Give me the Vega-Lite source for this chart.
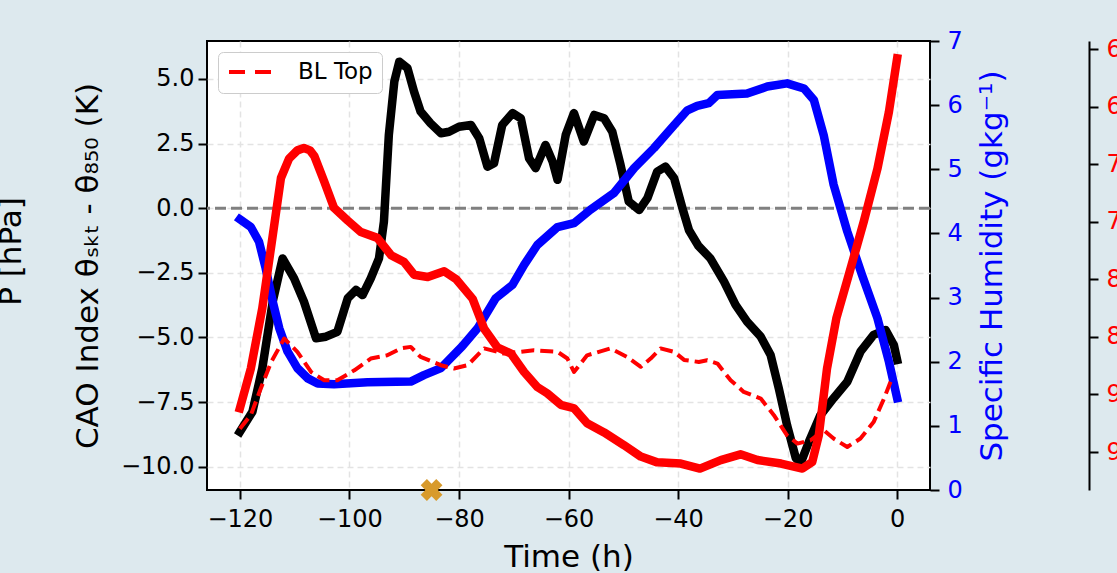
{
  "$schema": "https://vega.github.io/schema/vega-lite/v6.json",
  "width": 723,
  "height": 449,
  "autosize": {"type": "none"},
  "padding": {"left": 207, "top": 41, "right": 187, "bottom": 83},
  "background": "#dde9ee",
  "config": {
    "font": "DejaVu Sans",
    "view": {"stroke": "black", "strokeWidth": 2, "fill": "white"},
    "axis": {"labelFont": "DejaVu Sans", "titleFont": "DejaVu Sans", "labelFontSize": 24, "titleFontSize": 31, "titleFontWeight": "normal", "labelColor": "black", "titleColor": "black", "tickColor": "black", "tickWidth": 2, "tickSize": 9, "domain": false, "grid": false, "labelPadding": 8},
    "legend": {"labelFont": "DejaVu Sans", "labelFontSize": 23, "labelColor": "black", "fillColor": "white", "strokeColor": "#cccccc", "cornerRadius": 5, "padding": 9, "symbolType": "stroke", "symbolSize": 2400, "symbolStrokeWidth": 4, "symbolDash": [16, 10], "labelOffset": 18, "offset": 11, "clipHeight": 22}
  },
  "datasets": {
    "cao": [
      {"t": -120, "v": -8.65}, {"t": -117.7, "v": -7.87}, {"t": -115.9, "v": -6.19}, {"t": -114, "v": -3.61}, {"t": -112.2, "v": -1.94}, {"t": -110.1, "v": -2.71}, {"t": -108.3, "v": -3.61}, {"t": -106.1, "v": -5.03}, {"t": -104.3, "v": -4.97}, {"t": -102.2, "v": -4.78}, {"t": -100.3, "v": -3.48}, {"t": -98.8, "v": -3.16}, {"t": -97.6, "v": -3.36}, {"t": -96.1, "v": -2.71}, {"t": -94.6, "v": -1.94}, {"t": -93.7, "v": -0.52}, {"t": -92.8, "v": 2.84}, {"t": -91.8, "v": 4.9}, {"t": -90.9, "v": 5.67}, {"t": -89.4, "v": 5.42}, {"t": -88.2, "v": 4.51}, {"t": -87, "v": 3.74}, {"t": -85.2, "v": 3.29}, {"t": -83.3, "v": 2.9}, {"t": -81.8, "v": 2.96}, {"t": -80, "v": 3.15}, {"t": -77.8, "v": 3.22}, {"t": -76.3, "v": 2.71}, {"t": -74.8, "v": 1.61}, {"t": -73.6, "v": 1.74}, {"t": -72.1, "v": 3.22}, {"t": -70.2, "v": 3.68}, {"t": -68.7, "v": 3.48}, {"t": -67.2, "v": 1.93}, {"t": -66, "v": 1.55}, {"t": -64.2, "v": 2.45}, {"t": -62.9, "v": 1.8}, {"t": -62, "v": 1.1}, {"t": -60.5, "v": 2.84}, {"t": -59, "v": 3.68}, {"t": -57.2, "v": 2.58}, {"t": -55.3, "v": 3.61}, {"t": -53.5, "v": 3.48}, {"t": -52, "v": 2.96}, {"t": -50.5, "v": 1.68}, {"t": -49, "v": 0.26}, {"t": -47.1, "v": -0.07}, {"t": -45.6, "v": 0.39}, {"t": -43.8, "v": 1.42}, {"t": -42.3, "v": 1.61}, {"t": -40.7, "v": 1.16}, {"t": -39.2, "v": 0.0}, {"t": -38, "v": -0.85}, {"t": -36.3, "v": -1.45}, {"t": -34.1, "v": -1.94}, {"t": -31.6, "v": -2.84}, {"t": -29.5, "v": -3.74}, {"t": -27.4, "v": -4.39}, {"t": -24.9, "v": -4.97}, {"t": -23.1, "v": -5.68}, {"t": -21.6, "v": -6.97}, {"t": -20.1, "v": -8.39}, {"t": -18.5, "v": -9.67}, {"t": -17.6, "v": -9.85}, {"t": -16.1, "v": -9.03}, {"t": -14, "v": -8.0}, {"t": -11.6, "v": -7.35}, {"t": -9.1, "v": -6.71}, {"t": -6.7, "v": -5.55}, {"t": -4.3, "v": -4.9}, {"t": -2.1, "v": -4.71}, {"t": -0.6, "v": -5.29}, {"t": 0, "v": -5.87}
    ],
    "hum": [
      {"t": -120, "q": 4.22}, {"t": -118, "q": 4.1}, {"t": -116.5, "q": 3.87}, {"t": -115.3, "q": 3.46}, {"t": -114, "q": 2.94}, {"t": -112.8, "q": 2.52}, {"t": -111.3, "q": 2.16}, {"t": -109.5, "q": 1.9}, {"t": -107.6, "q": 1.74}, {"t": -105.8, "q": 1.66}, {"t": -102.8, "q": 1.65}, {"t": -96.7, "q": 1.68}, {"t": -88.8, "q": 1.69}, {"t": -86.4, "q": 1.79}, {"t": -83.3, "q": 1.9}, {"t": -79.4, "q": 2.24}, {"t": -76.6, "q": 2.52}, {"t": -73.3, "q": 2.99}, {"t": -70.2, "q": 3.2}, {"t": -68.1, "q": 3.51}, {"t": -65.7, "q": 3.82}, {"t": -62, "q": 4.1}, {"t": -59, "q": 4.16}, {"t": -56, "q": 4.37}, {"t": -51.7, "q": 4.63}, {"t": -48, "q": 5.02}, {"t": -44.4, "q": 5.33}, {"t": -40.7, "q": 5.69}, {"t": -38.3, "q": 5.92}, {"t": -36.5, "q": 5.99}, {"t": -34.4, "q": 6.03}, {"t": -32.8, "q": 6.16}, {"t": -27.4, "q": 6.18}, {"t": -23.7, "q": 6.29}, {"t": -20.1, "q": 6.34}, {"t": -17, "q": 6.26}, {"t": -15.2, "q": 6.08}, {"t": -13.4, "q": 5.53}, {"t": -11.6, "q": 4.76}, {"t": -9.1, "q": 4.03}, {"t": -6.4, "q": 3.35}, {"t": -3.6, "q": 2.68}, {"t": -1.5, "q": 2.0}, {"t": 0, "q": 1.43}
    ],
    "pres": [
      {"t": -120, "p": 912}, {"t": -118, "p": 877.5}, {"t": -115.9, "p": 825}, {"t": -114, "p": 762}, {"t": -112.5, "p": 712}, {"t": -111, "p": 695}, {"t": -109.5, "p": 688}, {"t": -108.3, "p": 686}, {"t": -107.2, "p": 688}, {"t": -106.4, "p": 693}, {"t": -104.6, "p": 715}, {"t": -102.8, "p": 738}, {"t": -100.3, "p": 749}, {"t": -97.9, "p": 759}, {"t": -94.9, "p": 764}, {"t": -92.4, "p": 779}, {"t": -90, "p": 785}, {"t": -88.2, "p": 796}, {"t": -85.7, "p": 798}, {"t": -82.7, "p": 793}, {"t": -80.5, "p": 800}, {"t": -77.5, "p": 817}, {"t": -75.4, "p": 843}, {"t": -73, "p": 859}, {"t": -70.5, "p": 864.5}, {"t": -68.1, "p": 880.5}, {"t": -65.7, "p": 893.5}, {"t": -63.9, "p": 899}, {"t": -61.4, "p": 909}, {"t": -59, "p": 912}, {"t": -56.6, "p": 925}, {"t": -53.5, "p": 933}, {"t": -49.9, "p": 944}, {"t": -46.8, "p": 954}, {"t": -43.8, "p": 959}, {"t": -39.5, "p": 960}, {"t": -36, "p": 964.4}, {"t": -32.2, "p": 957}, {"t": -28.6, "p": 952}, {"t": -25.5, "p": 957}, {"t": -21.2, "p": 960}, {"t": -17.3, "p": 964.4}, {"t": -15.5, "p": 958.7}, {"t": -14.3, "p": 935.5}, {"t": -12.8, "p": 877.5}, {"t": -11.1, "p": 834}, {"t": -8.5, "p": 790.6}, {"t": -6.1, "p": 750}, {"t": -3.6, "p": 704}, {"t": -1.5, "p": 654.5}, {"t": 0, "p": 608}
    ],
    "bl": [
      {"t": -120, "p": 929.7}, {"t": -118, "p": 918}, {"t": -116.2, "p": 895}, {"t": -114.3, "p": 872}, {"t": -111.9, "p": 851.4}, {"t": -109.5, "p": 863}, {"t": -107, "p": 880.5}, {"t": -104.6, "p": 887.7}, {"t": -102.2, "p": 887.7}, {"t": -99.1, "p": 879}, {"t": -96.1, "p": 868.8}, {"t": -93.1, "p": 866}, {"t": -90.6, "p": 860}, {"t": -88.8, "p": 858.7}, {"t": -87, "p": 867.4}, {"t": -83.3, "p": 874.6}, {"t": -80.9, "p": 877.5}, {"t": -78.4, "p": 874.6}, {"t": -75.4, "p": 860}, {"t": -71.8, "p": 864.5}, {"t": -66.3, "p": 861.6}, {"t": -62, "p": 863}, {"t": -60.2, "p": 868.8}, {"t": -59, "p": 880.5}, {"t": -56.6, "p": 866}, {"t": -52.3, "p": 860}, {"t": -49.3, "p": 867.4}, {"t": -46.8, "p": 876}, {"t": -45, "p": 868.8}, {"t": -43.2, "p": 860}, {"t": -40.7, "p": 863}, {"t": -38.9, "p": 870}, {"t": -36.2, "p": 871.8}, {"t": -34.7, "p": 870.3}, {"t": -32.8, "p": 873.2}, {"t": -30.4, "p": 887.7}, {"t": -28, "p": 897.8}, {"t": -24.9, "p": 903.6}, {"t": -22.5, "p": 918}, {"t": -20.1, "p": 935.5}, {"t": -18.2, "p": 942.7}, {"t": -15.8, "p": 939.8}, {"t": -13.4, "p": 931}, {"t": -11.6, "p": 938.3}, {"t": -9.1, "p": 945.6}, {"t": -6.7, "p": 938.3}, {"t": -4.3, "p": 924}, {"t": -2.4, "p": 903.6}, {"t": -1.2, "p": 889}
    ],
    "zero": [{"v": 0}],
    "marker": [{"t": -85, "v": -10.9}]
  },
  "layer": [
    {
      "encoding": {
        "y": {"field": "v", "type": "quantitative", "scale": {"domain": [-10.9, 6.47], "nice": false, "zero": false},
          "axis": {"orient": "left", "values": [-10, -7.5, -5, -2.5, 0, 2.5, 5], "format": ".1f", "labelPadding": 4, "title": "CAO Index θₛₖₜ - θ₈₅₀ (K)", "titlePadding": 16, "grid": true, "gridDash": [6, 4], "gridColor": "#e3e3e3", "gridWidth": 1.5}}
      },
      "layer": [
        {
          "data": {"name": "zero"},
          "mark": {"type": "rule", "color": "#808080", "strokeWidth": 3, "strokeDash": [11, 5]},
          "encoding": {}
        },
        {
          "data": {"name": "cao"},
          "mark": {"type": "line", "color": "black", "strokeWidth": 8.5, "strokeCap": "square", "strokeJoin": "round"},
          "encoding": {
            "x": {"field": "t", "type": "quantitative", "scale": {"domain": [-126, 6], "nice": false, "zero": false},
              "axis": {"values": [-120, -100, -80, -60, -40, -20, 0], "title": "Time (h)", "titlePadding": 11, "grid": true, "gridDash": [6, 4], "gridColor": "#e3e3e3", "gridWidth": 1.5}}
          }
        },
        {
          "data": {"name": "marker"},
          "mark": {"type": "point", "shape": "cross", "angle": 45, "filled": true, "color": "#d89a2b", "size": 484, "opacity": 1},
          "encoding": {
            "x": {"field": "t", "type": "quantitative"}
          }
        }
      ]
    },
    {
      "data": {"name": "hum"},
      "mark": {"type": "line", "color": "blue", "strokeWidth": 8.5, "strokeCap": "square", "strokeJoin": "round"},
      "encoding": {
        "x": {"field": "t", "type": "quantitative"},
        "y": {"field": "q", "type": "quantitative", "scale": {"domain": [0, 7], "nice": false},
          "axis": {"orient": "right", "values": [0, 1, 2, 3, 4, 5, 6, 7], "labelColor": "blue", "titleColor": "blue", "title": "Specific Humidity (gkg⁻¹)", "titleAngle": 270, "titleBaseline": "top", "titlePadding": 15}}
      }
    },
    {
      "encoding": {
        "y": {"field": "p", "type": "quantitative", "scale": {"domain": [593, 983], "nice": false, "zero": false, "reverse": true}}
      },
      "layer": [
        {
          "data": {"name": "pres"},
          "mark": {"type": "line", "color": "red", "strokeWidth": 8.5, "strokeCap": "square", "strokeJoin": "round"},
          "encoding": {
            "x": {"field": "t", "type": "quantitative"},
            "y": {"field": "p", "type": "quantitative", "axis": {"orient": "right", "offset": 159, "values": [600, 650, 700, 750, 800, 850, 900, 950], "labelColor": "red", "title": null, "domain": true, "domainColor": "black", "domainWidth": 2}}
          }
        },
        {
          "data": {"name": "bl"},
          "mark": {"type": "line", "strokeWidth": 4, "strokeDash": [13, 6], "strokeJoin": "round"},
          "encoding": {
            "x": {"field": "t", "type": "quantitative"},
            "y": {"field": "p", "type": "quantitative", "axis": {"orient": "left", "offset": 180, "labels": false, "ticks": false, "domain": false, "title": "P [hPa]", "titlePadding": 0, "titleY": 210}},
            "color": {"datum": "BL Top", "type": "nominal", "scale": {"range": ["red"]}, "legend": {"title": null, "orient": "top-left"}}
          }
        }
      ],
      "resolve": {"axis": {"y": "independent"}}
    }
  ],
  "resolve": {"scale": {"y": "independent"}}
}
